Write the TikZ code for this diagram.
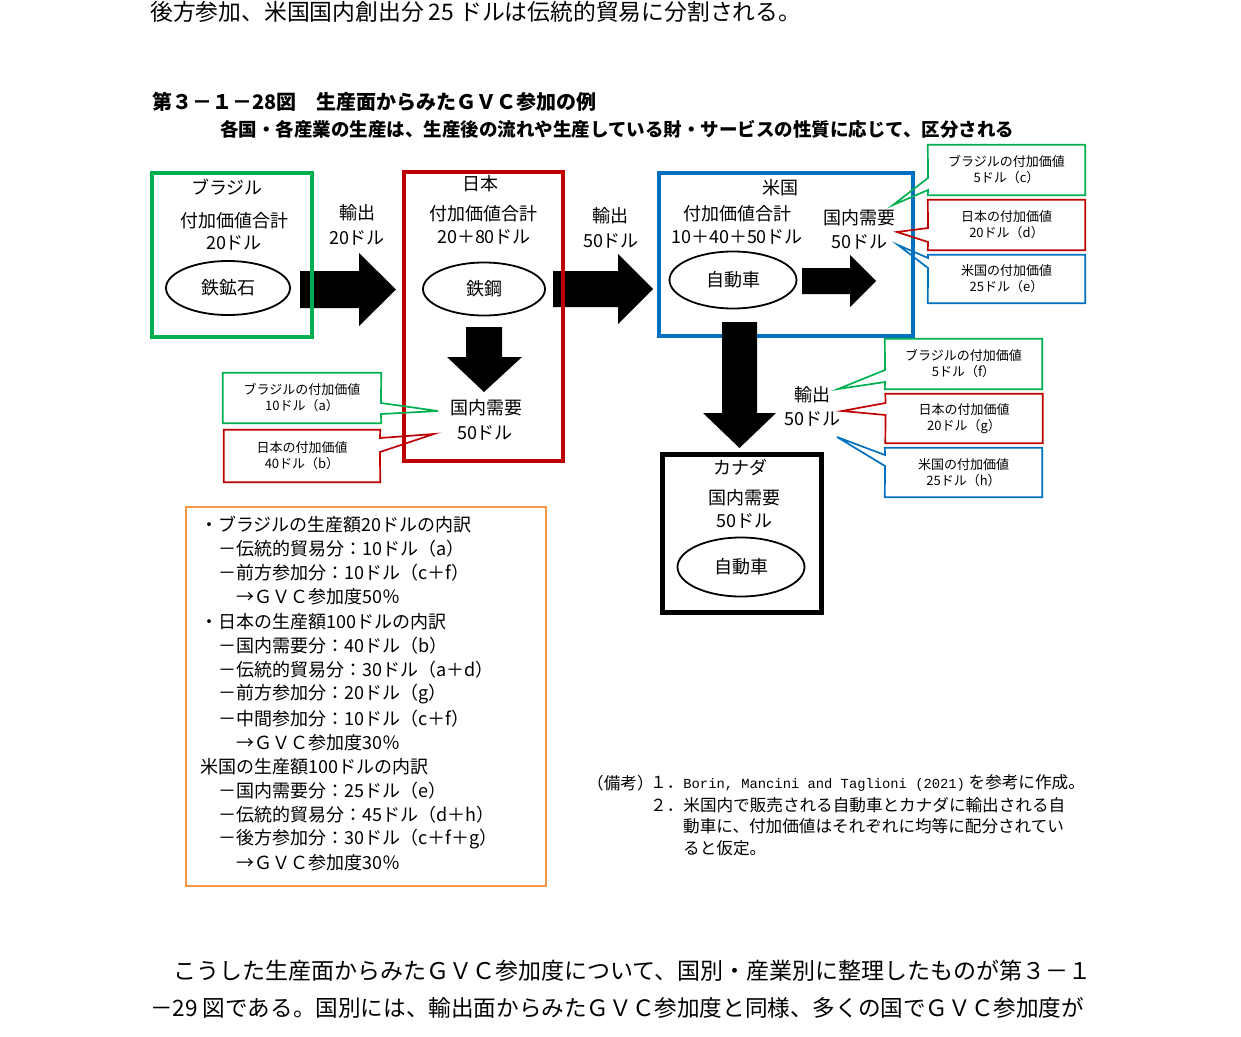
\documentclass[tikz,border=0pt]{standalone}
\usepackage{fontspec}
\setmainfont{Noto Sans CJK JP}
\newfontfamily\notemono{Liberation Mono}
\newcommand\fsz[2]{\fontsize{#1pt}{#2pt}\selectfont}
\definecolor{cgreen}{HTML}{00B050}
\definecolor{cred}{HTML}{C00000}
\definecolor{cblue}{HTML}{0070C0}
\definecolor{corange}{HTML}{F79646}
\tikzset{
  lab/.style={font=\fsz{18}{22}, inner sep=0pt},
  body/.style={font=\fsz{23}{28}, inner sep=0pt, anchor=west},
  ttl/.style={font=\bfseries\fsz{20}{24}, inner sep=0pt, anchor=west},
  stl/.style={font=\bfseries\fsz{18.5}{22}, inner sep=0pt, anchor=west},
  cbox/.style={line width=4pt, draw, minimum width=#1, inner sep=0pt},
  oval/.style={draw, line width=1.8pt, ellipse, inner sep=0pt},
  ctext/.style={font=\fsz{13}{16}, align=center, inner sep=0pt, draw=none},
  callout/.style={line width=1.7pt, line join=miter},
  blk/.style={fill=black},
  olines/.style={font=\fsz{18}{22}, inner sep=0pt, anchor=west},
  notes/.style={font=\fsz{16.6}{20}, inner sep=0pt, anchor=west},
}
\usetikzlibrary{shapes.geometric}
\begin{document}
\begin{tikzpicture}[x=1pt,y=-1pt]
\fill[white] (0,0) rectangle (1241,1036);
\useasboundingbox (0,0) rectangle (1241,1036);

% page text
\node[body, font=\fsz{22.8}{27}] (toptext) at (150,12) {後方参加、米国国内創出分 25 ドルは伝統的貿易に分割される。};
\node[ttl] (title) at (152,102) {第３－１－28図　生産面からみたＧＶＣ参加の例};
\node[stl] (subtitle) at (220,129) {各国・各産業の生産は、生産後の流れや生産している財・サービスの性質に応じて、区分される};

% big arrows
\fill[blk] (300,271) -- (359,271) -- (359,253) -- (396,289.5) -- (359,326) -- (359,308) -- (300,308) -- cycle;
\fill[blk] (553,271) -- (618,271) -- (618,254) -- (653,289) -- (618,324) -- (618,307) -- (553,307) -- cycle;
\fill[blk] (802,268) -- (850,268) -- (850,255) -- (876,281) -- (850,307) -- (850,294) -- (802,294) -- cycle;
\fill[blk] (466,327) -- (502,327) -- (502,357) -- (522,357) -- (484,392) -- (447,357) -- (466,357) -- cycle;

% country boxes
\node[cbox=160pt, minimum height=164pt, cgreen] (bra) at (232,255) {};
\node[cbox=159pt, minimum height=289pt, cred] (jpn) at (483.5,316.5) {};
\node[cbox=254pt, minimum height=163pt, cblue] (usa) at (786,254.5) {};
\node[cbox=159pt, minimum height=158pt, black, line width=5pt] (can) at (742,533.5) {};
\node[draw=corange, line width=2.5pt, minimum width=360pt, minimum height=379pt, inner sep=0pt] (sum) at (366,696.5) {};

% export arrow to Canada (drawn over the US box edge)
\fill[blk] (722,322) -- (757,322) -- (757,413) -- (776,413) -- (739.5,448) -- (703,413) -- (722,413) -- cycle;

% Brazil
\node[lab] (braname) at (227,187) {ブラジル};
\node[lab] (bravl) at (234,221) {付加価値合計};
\node[lab] (bravv) at (234,243) {20ドル};
\node[oval, minimum width=124pt, minimum height=54pt] (ore) at (228,288) {\fsz{18}{22}鉄鉱石};
% Japan
\node[lab] (jpnname) at (480,184) {日本};
\node[lab] (jpnvl) at (483,214) {付加価値合計};
\node[lab] (jpnvv) at (484,237) {20＋80ドル};
\node[oval, minimum width=122pt, minimum height=53pt] (steel) at (484,289) {\fsz{18}{22}鉄鋼};
\node[lab] (jpndd) at (486,408) {国内需要};
\node[lab] (jpnddv) at (485,433) {50ドル};
% exports
\node[lab] (ex1) at (357,213) {輸出};
\node[lab] (ex1v) at (357,238) {20ドル};
\node[lab] (ex2) at (610,216) {輸出};
\node[lab] (ex2v) at (611,241) {50ドル};
% USA
\node[lab] (usaname) at (780,188) {米国};
\node[lab] (usavl) at (737,214) {付加価値合計};
\node[lab] (usavv) at (737,237) {10＋40＋50ドル};
\node[oval, minimum width=127pt, minimum height=57pt] (car1) at (733,280) {\fsz{18}{22}自動車};
\node[lab] (usadd) at (859,218) {国内需要};
\node[lab] (usaddv) at (859,242) {50ドル};
% Canada
\node[lab] (canname) at (740,467) {カナダ};
\node[lab] (candd) at (744,498) {国内需要};
\node[lab] (canddv) at (744,521) {50ドル};
\node[oval, minimum width=127pt, minimum height=59pt] (car2) at (741,567) {\fsz{18}{22}自動車};
\node[lab] (ex3) at (812,395) {輸出};
\node[lab] (ex3v) at (812,419) {50ドル};

% ---- callouts (USA domestic) ----
\node[ctext, minimum width=157pt, minimum height=50pt] (uc) at (1006.5,170) {ブラジルの付加価値\\5ドル（c）};
\coordinate (uctip) at (893,205);
\coordinate (ucb1) at (928,178);
\coordinate (ucb2) at (928,190);
\draw[callout, cgreen] (uc.north west) -- (uc.north east) -- (uc.south east) -- (uc.south west) -- (ucb2) -- (uctip) -- (ucb1) -- cycle;

\node[ctext, minimum width=157pt, minimum height=50pt] (ud) at (1006.5,225) {日本の付加価値\\20ドル（d）};
\coordinate (udtip) at (897,232);
\coordinate (udb1) at (928,228);
\coordinate (udb2) at (928,242);
\draw[callout, cred] (ud.north west) -- (ud.north east) -- (ud.south east) -- (ud.south west) -- (udb2) -- (udtip) -- (udb1) -- cycle;

\node[ctext, minimum width=157pt, minimum height=48pt] (ue) at (1006.5,279) {米国の付加価値\\25ドル（e）};
\coordinate (uetip) at (898,245);
\coordinate (ueb1) at (928,258);
\coordinate (ueb2) at (928,268);
\draw[callout, cblue] (ue.north west) -- (ue.north east) -- (ue.south east) -- (ue.south west) -- (ueb2) -- (uetip) -- (ueb1) -- cycle;

% ---- callouts (Canada export) ----
\node[ctext, minimum width=157pt, minimum height=50pt] (cf) at (963.5,364) {ブラジルの付加価値\\5ドル（f）};
\coordinate (cftip) at (838,389);
\coordinate (cfb1) at (885,370);
\coordinate (cfb2) at (885,382);
\draw[callout, cgreen] (cf.north west) -- (cf.north east) -- (cf.south east) -- (cf.south west) -- (cfb2) -- (cftip) -- (cfb1) -- cycle;

\node[ctext, minimum width=157pt, minimum height=49pt] (cg) at (964,418.5) {日本の付加価値\\20ドル（g）};
\coordinate (cgtip) at (842,411);
\coordinate (cgb1) at (885.5,403);
\coordinate (cgb2) at (885.5,415);
\draw[callout, cred] (cg.north west) -- (cg.north east) -- (cg.south east) -- (cg.south west) -- (cgb2) -- (cgtip) -- (cgb1) -- cycle;

\node[ctext, minimum width=157pt, minimum height=49pt] (ch) at (963.5,472.5) {米国の付加価値\\25ドル（h）};
\coordinate (chtip) at (837,437);
\coordinate (chb1) at (885,455);
\coordinate (chb2) at (885,466);
\draw[callout, cblue] (ch.north west) -- (ch.north east) -- (ch.south east) -- (ch.south west) -- (chb2) -- (chtip) -- (chb1) -- cycle;

% ---- callouts (Japan domestic) ----
\node[ctext, minimum width=158pt, minimum height=50pt] (ja) at (302,398) {ブラジルの付加価値\\10ドル（a）};
\coordinate (jatip) at (438,411);
\coordinate (jab1) at (381,403);
\coordinate (jab2) at (381,414);
\draw[callout, cgreen] (ja.north west) -- (ja.north east) -- (jab1) -- (jatip) -- (jab2) -- (ja.south east) -- (ja.south west) -- cycle;

\node[ctext, minimum width=156pt, minimum height=52pt] (jb) at (302,456) {日本の付加価値\\40ドル（b）};
\coordinate (jbtip) at (434,434);
\coordinate (jbb1) at (380,438);
\coordinate (jbb2) at (380,452);
\draw[callout, cred] (jb.north west) -- (jb.north east) -- (jbb1) -- (jbtip) -- (jbb2) -- (jb.south east) -- (jb.south west) -- cycle;

% ---- summary box lines ----
\node[olines] (s1) at (200,525) {・ブラジルの生産額20ドルの内訳};
\node[olines] (s2) at (200,549) {　－伝統的貿易分：10ドル（a）};
\node[olines] (s3) at (200,573) {　－前方参加分：10ドル（c＋f）};
\node[olines] (s4) at (200,597) {　　→ＧＶＣ参加度50％};
\node[olines] (s5) at (200,622) {・日本の生産額100ドルの内訳};
\node[olines] (s6) at (200,646) {　－国内需要分：40ドル（b）};
\node[olines] (s7) at (200,670) {　－伝統的貿易分：30ドル（a＋d）};
\node[olines] (s8) at (200,694.5) {　－前方参加分：20ドル（g）};
\node[olines] (s9) at (200,718.5) {　－中間参加分：10ドル（c＋f）};
\node[olines] (s10) at (200,743) {　　→ＧＶＣ参加度30％};
\node[olines] (s11) at (200,767) {米国の生産額100ドルの内訳};
\node[olines] (s12) at (200,791) {　－国内需要分：25ドル（e）};
\node[olines] (s13) at (200,815) {　－伝統的貿易分：45ドル（d＋h）};
\node[olines] (s14) at (200,839) {　－後方参加分：30ドル（c＋f＋g）};
\node[olines] (s15) at (200,863) {　　→ＧＶＣ参加度30％};

% ---- notes ----
\node[notes] (n0) at (587,783) {（備考）};
\node[notes] (n1) at (650,783) {１．{\notemono\fsz{13.8}{16}Borin, Mancini and Taglioni (2021)} を参考に作成。};
\node[notes] (n2) at (650,805) {２．米国内で販売される自動車とカナダに輸出される自};
\node[notes] (n3) at (683,826.5) {動車に、付加価値はそれぞれに均等に配分されてい};
\node[notes] (n4) at (683,848) {ると仮定。};

% ---- following paragraph ----
\node[body] (p1) at (150,971) {　こうした生産面からみたＧＶＣ参加度について、国別・産業別に整理したものが第３－１};
\node[body, font=\fsz{22.6}{28}] (p2) at (150,1008) {－29 図である。国別には、輸出面からみたＧＶＣ参加度と同様、多くの国でＧＶＣ参加度が};
\end{tikzpicture}
\end{document}
